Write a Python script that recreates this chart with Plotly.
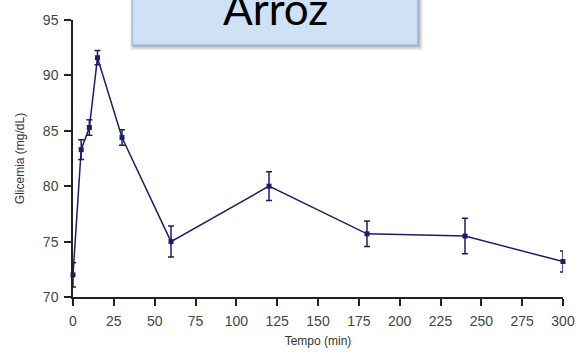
import plotly.graph_objects as go

# Blood glucose response after eating rice
tempo_min = [0, 5, 10, 15, 30, 60, 120, 180, 240, 300]
glicemia = [72.0, 83.3, 85.3, 91.6, 84.4, 75.0, 80.0, 75.7, 75.5, 73.2]
erro = [1.1, 0.9, 0.7, 0.65, 0.7, 1.4, 1.3, 1.15, 1.6, 0.95]

x_ticks = list(range(0, 301, 25))
y_ticks = [70, 75, 80, 85, 90, 95]

NAVY = "#1c1c6b"
W, H = 587, 363
L, R, T, B = 73, 18, 19, 66


def px_x(p):
    return (p - L) / (W - L - R)


def px_y(p):
    return (H - B - p) / (H - B - T)


fig = go.Figure()
fig.add_trace(go.Scatter(
    x=tempo_min, y=glicemia,
    mode="lines+markers",
    line=dict(color=NAVY, width=1.5),
    marker=dict(symbol="square", size=5, color=NAVY),
    error_y=dict(type="data", array=erro, visible=True,
                 color=NAVY, thickness=1.5, width=3),
    showlegend=False,
    cliponaxis=False,
))

# Title box with soft drop shadow
shapes = []
for i, op in enumerate([0.10, 0.14, 0.18]):
    off = 5 - i * 1.5
    shapes.append(dict(
        type="rect", xref="paper", yref="paper",
        x0=px_x(133 - off + 3), x1=px_x(422 + off),
        y0=px_y(44 + off), y1=px_y(-10),
        fillcolor=f"rgba(60,60,60,{op})", line=dict(width=0), layer="above"))
shapes.append(dict(
    type="rect", xref="paper", yref="paper",
    x0=px_x(133), x1=px_x(422), y0=px_y(44), y1=px_y(-10),
    fillcolor="#cfe1f4", line=dict(color="#a3bcd8", width=1.5), layer="above"))

fig.update_layout(
    width=W, height=H,
    margin=dict(l=L, r=R, t=T, b=B),
    paper_bgcolor="white", plot_bgcolor="white",
    font=dict(family="Arial, Liberation Sans, sans-serif", color="#333333"),
    shapes=shapes,
    annotations=[dict(
        text="Arroz", xref="paper", yref="paper",
        x=px_x(278), y=px_y(7), xanchor="center", yanchor="middle",
        showarrow=False,
        font=dict(family="Lato, Noto Sans, sans-serif", size=44, color="black"),
    )],
    xaxis=dict(
        range=[0, 300], tickvals=x_ticks, ticktext=[str(v) for v in x_ticks],
        showgrid=False, zeroline=False, showline=True, linecolor="#222222",
        linewidth=1.5, ticks="outside", ticklen=7, tickwidth=1.5,
        tickcolor="#222222", tickfont=dict(size=14, color="#444444"),
        ticklabelstandoff=3,
        title=dict(text="Tempo (min)", font=dict(size=12, color="#333333"), standoff=9),
    ),
    yaxis=dict(
        range=[70, 95], tickvals=y_ticks,
        showgrid=False, zeroline=False, showline=True, linecolor="#222222",
        linewidth=1.5, ticks="outside", ticklen=7, tickwidth=1.5,
        tickcolor="#222222", tickfont=dict(size=14, color="#444444"),
        ticklabelstandoff=3,
        title=dict(text="Glicemia (mg/dL)", font=dict(size=12, color="#333333"), standoff=16),
    ),
)

fig.write_html("out.html")
